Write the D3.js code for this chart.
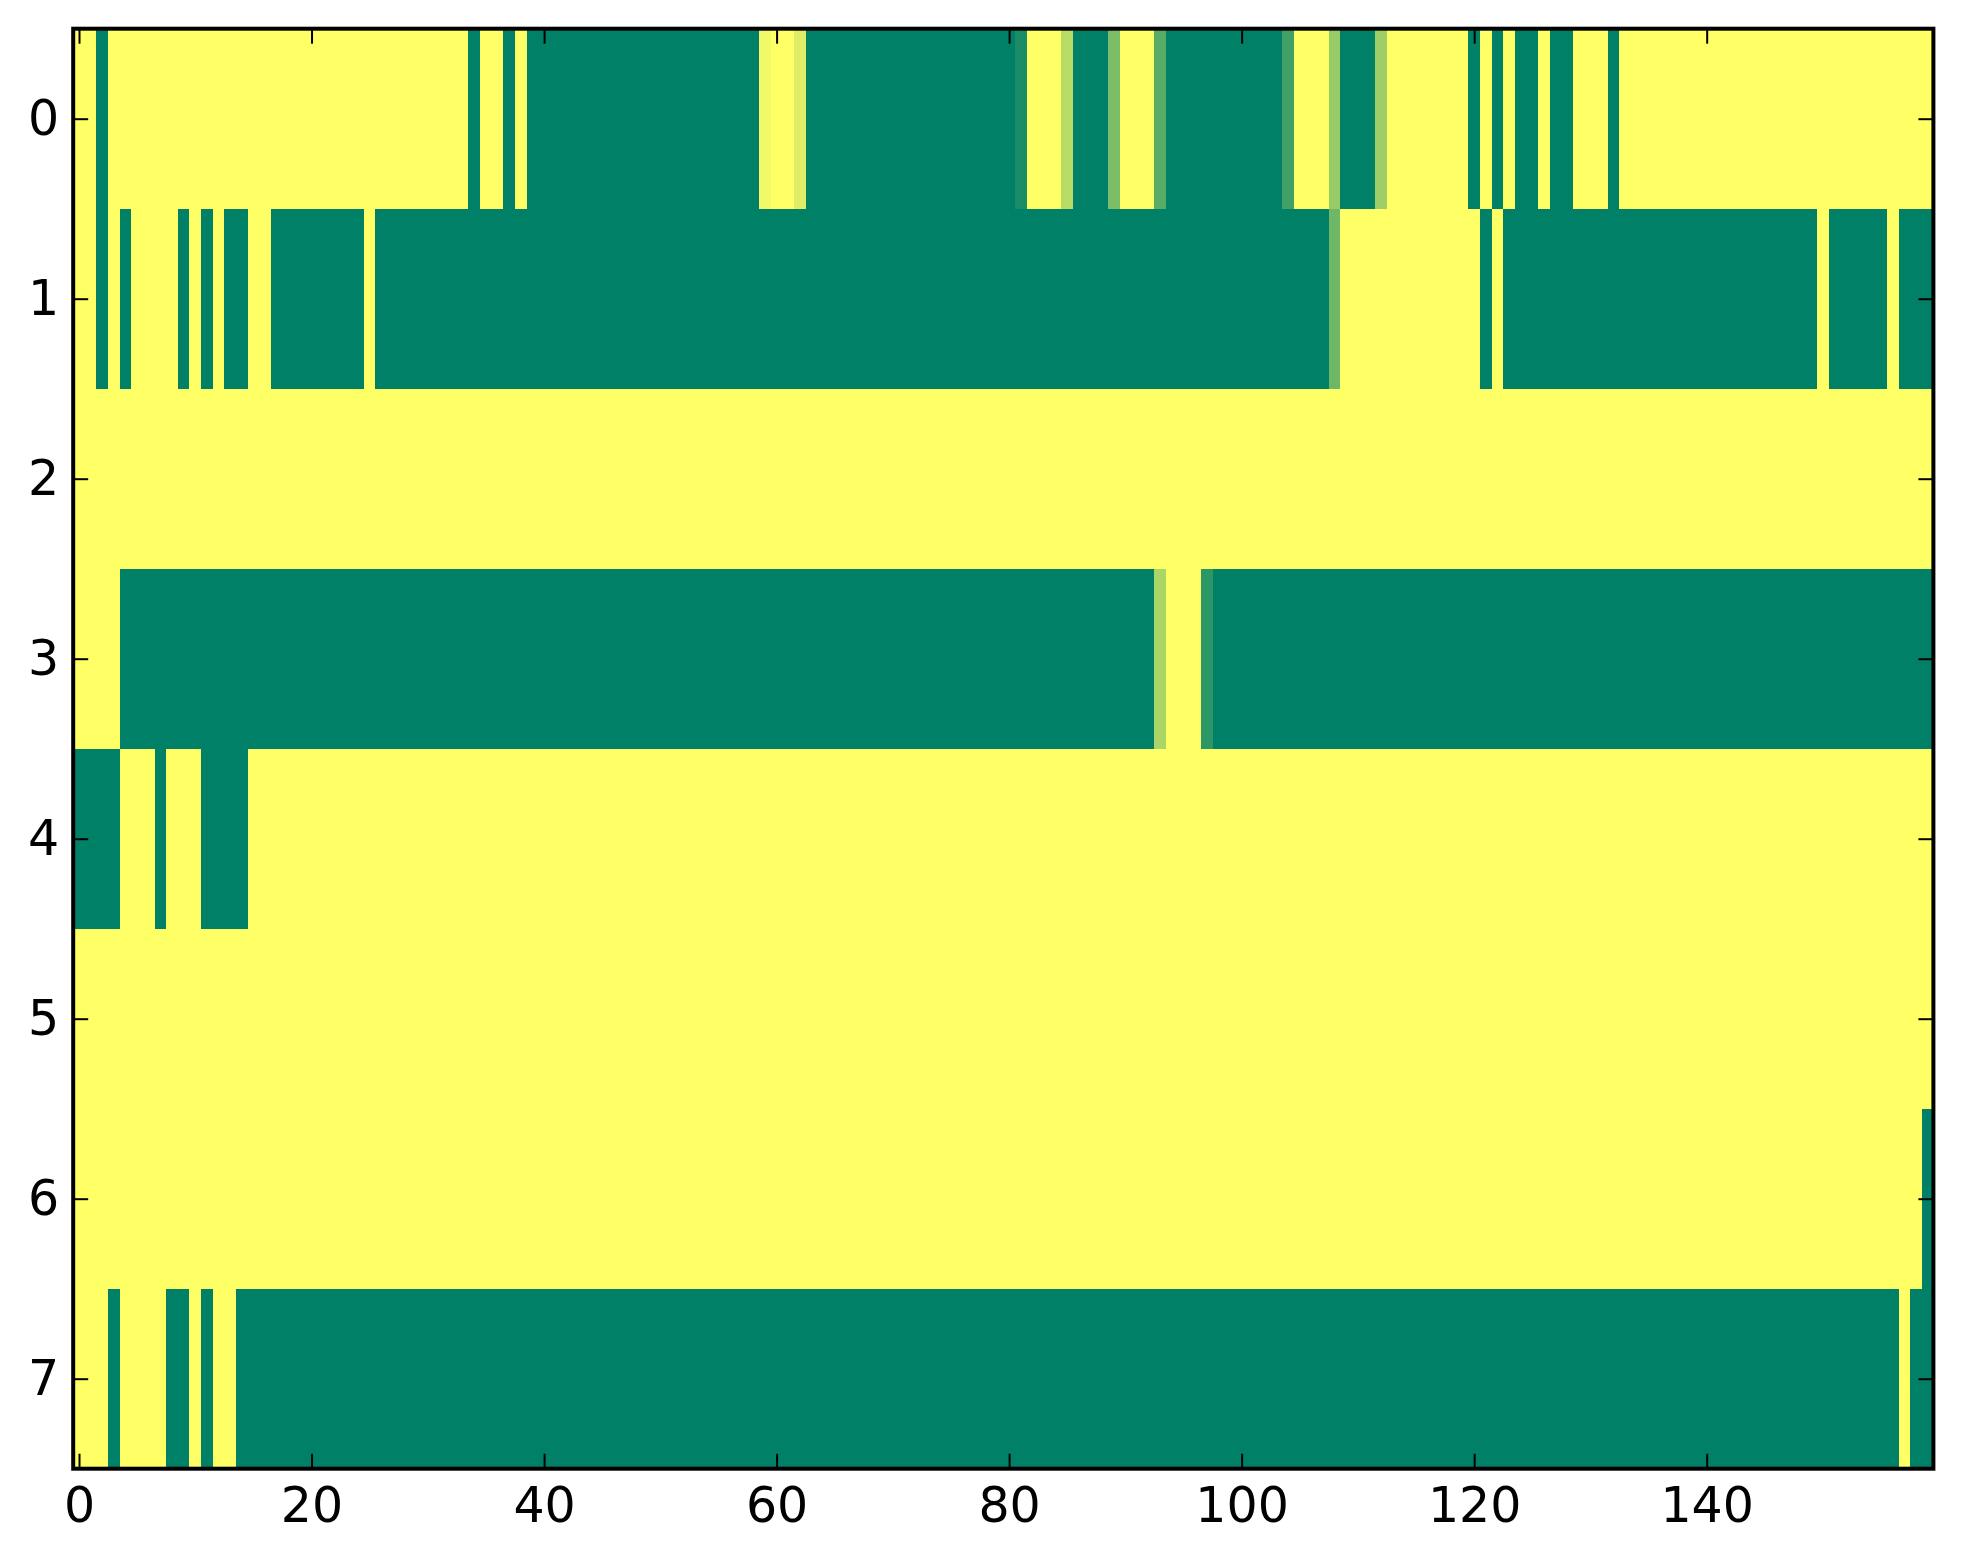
<!DOCTYPE html>
<html>
<head>
    <meta charset="utf-8">
    <style>
        body { margin: 0; background: #fff; }
        .tick text { font-family: "DejaVu Sans", sans-serif; font-size: 49px; fill: #000; }
        .tick line { stroke: #000; stroke-width: 2px; }
    </style>
    <script src="https://cdn.jsdelivr.net/npm/d3@7/dist/d3.min.js"></script>
</head>
<body>

<script>

    // cell values, one array per row (160 columns each)
    var row0 = [
        1, 1, 0, 1, 1, 1, 1, 1, 1, 1, 1, 1, 1, 1, 1, 1, 1, 1, 1, 1,
        1, 1, 1, 1, 1, 1, 1, 1, 1, 1, 1, 1, 1, 1, 0, 1, 1, 0, 1, 0,
        0, 0, 0, 0, 0, 0, 0, 0, 0, 0, 0, 0, 0, 0, 0, 0, 0, 0, 0, 0.95,
        1, 1, 0.87, 0, 0, 0, 0, 0, 0, 0, 0, 0, 0, 0, 0, 0, 0, 0, 0, 0,
        0, 0.1, 1, 1, 1, 0.72, 0, 0, 0, 0.48, 1, 1, 1, 0.35, 0, 0, 0, 0, 0, 0,
        0, 0, 0, 0, 0.25, 1, 1, 1, 0.59, 0, 0, 0, 0.62, 1, 1, 1, 1, 1, 1, 1,
        0, 1, 0, 1, 0, 0, 1, 0, 0, 1, 1, 1, 0, 1, 1, 1, 1, 1, 1, 1,
        1, 1, 1, 1, 1, 1, 1, 1, 1, 1, 1, 1, 1, 1, 1, 1, 1, 1, 1, 1
    ];
    var row1 = [
        1, 1, 0, 1, 0, 1, 1, 1, 1, 0, 1, 0, 1, 0, 0, 1, 1, 0, 0, 0,
        0, 0, 0, 0, 0, 1, 0, 0, 0, 0, 0, 0, 0, 0, 0, 0, 0, 0, 0, 0,
        0, 0, 0, 0, 0, 0, 0, 0, 0, 0, 0, 0, 0, 0, 0, 0, 0, 0, 0, 0,
        0, 0, 0, 0, 0, 0, 0, 0, 0, 0, 0, 0, 0, 0, 0, 0, 0, 0, 0, 0,
        0, 0, 0, 0, 0, 0, 0, 0, 0, 0, 0, 0, 0, 0, 0, 0, 0, 0, 0, 0,
        0, 0, 0, 0, 0, 0, 0, 0, 0.43, 1, 1, 1, 1, 1, 1, 1, 1, 1, 1, 1,
        1, 0, 1, 0, 0, 0, 0, 0, 0, 0, 0, 0, 0, 0, 0, 0, 0, 0, 0, 0,
        0, 0, 0, 0, 0, 0, 0, 0, 0, 0, 1, 0, 0, 0, 0, 0, 1, 0, 0, 0
    ];
    var row2 = [
        1, 1, 1, 1, 1, 1, 1, 1, 1, 1, 1, 1, 1, 1, 1, 1, 1, 1, 1, 1,
        1, 1, 1, 1, 1, 1, 1, 1, 1, 1, 1, 1, 1, 1, 1, 1, 1, 1, 1, 1,
        1, 1, 1, 1, 1, 1, 1, 1, 1, 1, 1, 1, 1, 1, 1, 1, 1, 1, 1, 1,
        1, 1, 1, 1, 1, 1, 1, 1, 1, 1, 1, 1, 1, 1, 1, 1, 1, 1, 1, 1,
        1, 1, 1, 1, 1, 1, 1, 1, 1, 1, 1, 1, 1, 1, 1, 1, 1, 1, 1, 1,
        1, 1, 1, 1, 1, 1, 1, 1, 1, 1, 1, 1, 1, 1, 1, 1, 1, 1, 1, 1,
        1, 1, 1, 1, 1, 1, 1, 1, 1, 1, 1, 1, 1, 1, 1, 1, 1, 1, 1, 1,
        1, 1, 1, 1, 1, 1, 1, 1, 1, 1, 1, 1, 1, 1, 1, 1, 1, 1, 1, 1
    ];
    var row3 = [
        1, 1, 1, 1, 0, 0, 0, 0, 0, 0, 0, 0, 0, 0, 0, 0, 0, 0, 0, 0,
        0, 0, 0, 0, 0, 0, 0, 0, 0, 0, 0, 0, 0, 0, 0, 0, 0, 0, 0, 0,
        0, 0, 0, 0, 0, 0, 0, 0, 0, 0, 0, 0, 0, 0, 0, 0, 0, 0, 0, 0,
        0, 0, 0, 0, 0, 0, 0, 0, 0, 0, 0, 0, 0, 0, 0, 0, 0, 0, 0, 0,
        0, 0, 0, 0, 0, 0, 0, 0, 0, 0, 0, 0, 0, 0.67, 1, 1, 1, 0.17, 0, 0,
        0, 0, 0, 0, 0, 0, 0, 0, 0, 0, 0, 0, 0, 0, 0, 0, 0, 0, 0, 0,
        0, 0, 0, 0, 0, 0, 0, 0, 0, 0, 0, 0, 0, 0, 0, 0, 0, 0, 0, 0,
        0, 0, 0, 0, 0, 0, 0, 0, 0, 0, 0, 0, 0, 0, 0, 0, 0, 0, 0, 0
    ];
    var row4 = [
        0, 0, 0, 0, 1, 1, 1, 0, 1, 1, 1, 0, 0, 0, 0, 1, 1, 1, 1, 1,
        1, 1, 1, 1, 1, 1, 1, 1, 1, 1, 1, 1, 1, 1, 1, 1, 1, 1, 1, 1,
        1, 1, 1, 1, 1, 1, 1, 1, 1, 1, 1, 1, 1, 1, 1, 1, 1, 1, 1, 1,
        1, 1, 1, 1, 1, 1, 1, 1, 1, 1, 1, 1, 1, 1, 1, 1, 1, 1, 1, 1,
        1, 1, 1, 1, 1, 1, 1, 1, 1, 1, 1, 1, 1, 1, 1, 1, 1, 1, 1, 1,
        1, 1, 1, 1, 1, 1, 1, 1, 1, 1, 1, 1, 1, 1, 1, 1, 1, 1, 1, 1,
        1, 1, 1, 1, 1, 1, 1, 1, 1, 1, 1, 1, 1, 1, 1, 1, 1, 1, 1, 1,
        1, 1, 1, 1, 1, 1, 1, 1, 1, 1, 1, 1, 1, 1, 1, 1, 1, 1, 1, 1
    ];
    var row5 = [
        1, 1, 1, 1, 1, 1, 1, 1, 1, 1, 1, 1, 1, 1, 1, 1, 1, 1, 1, 1,
        1, 1, 1, 1, 1, 1, 1, 1, 1, 1, 1, 1, 1, 1, 1, 1, 1, 1, 1, 1,
        1, 1, 1, 1, 1, 1, 1, 1, 1, 1, 1, 1, 1, 1, 1, 1, 1, 1, 1, 1,
        1, 1, 1, 1, 1, 1, 1, 1, 1, 1, 1, 1, 1, 1, 1, 1, 1, 1, 1, 1,
        1, 1, 1, 1, 1, 1, 1, 1, 1, 1, 1, 1, 1, 1, 1, 1, 1, 1, 1, 1,
        1, 1, 1, 1, 1, 1, 1, 1, 1, 1, 1, 1, 1, 1, 1, 1, 1, 1, 1, 1,
        1, 1, 1, 1, 1, 1, 1, 1, 1, 1, 1, 1, 1, 1, 1, 1, 1, 1, 1, 1,
        1, 1, 1, 1, 1, 1, 1, 1, 1, 1, 1, 1, 1, 1, 1, 1, 1, 1, 1, 1
    ];
    var row6 = [
        1, 1, 1, 1, 1, 1, 1, 1, 1, 1, 1, 1, 1, 1, 1, 1, 1, 1, 1, 1,
        1, 1, 1, 1, 1, 1, 1, 1, 1, 1, 1, 1, 1, 1, 1, 1, 1, 1, 1, 1,
        1, 1, 1, 1, 1, 1, 1, 1, 1, 1, 1, 1, 1, 1, 1, 1, 1, 1, 1, 1,
        1, 1, 1, 1, 1, 1, 1, 1, 1, 1, 1, 1, 1, 1, 1, 1, 1, 1, 1, 1,
        1, 1, 1, 1, 1, 1, 1, 1, 1, 1, 1, 1, 1, 1, 1, 1, 1, 1, 1, 1,
        1, 1, 1, 1, 1, 1, 1, 1, 1, 1, 1, 1, 1, 1, 1, 1, 1, 1, 1, 1,
        1, 1, 1, 1, 1, 1, 1, 1, 1, 1, 1, 1, 1, 1, 1, 1, 1, 1, 1, 1,
        1, 1, 1, 1, 1, 1, 1, 1, 1, 1, 1, 1, 1, 1, 1, 1, 1, 1, 1, 0
    ];
    var row7 = [
        1, 1, 1, 0, 1, 1, 1, 1, 0, 0, 1, 0, 1, 1, 0, 0, 0, 0, 0, 0,
        0, 0, 0, 0, 0, 0, 0, 0, 0, 0, 0, 0, 0, 0, 0, 0, 0, 0, 0, 0,
        0, 0, 0, 0, 0, 0, 0, 0, 0, 0, 0, 0, 0, 0, 0, 0, 0, 0, 0, 0,
        0, 0, 0, 0, 0, 0, 0, 0, 0, 0, 0, 0, 0, 0, 0, 0, 0, 0, 0, 0,
        0, 0, 0, 0, 0, 0, 0, 0, 0, 0, 0, 0, 0, 0, 0, 0, 0, 0, 0, 0,
        0, 0, 0, 0, 0, 0, 0, 0, 0, 0, 0, 0, 0, 0, 0, 0, 0, 0, 0, 0,
        0, 0, 0, 0, 0, 0, 0, 0, 0, 0, 0, 0, 0, 0, 0, 0, 0, 0, 0, 0,
        0, 0, 0, 0, 0, 0, 0, 0, 0, 0, 0, 0, 0, 0, 0, 0, 0, 1, 0, 0
    ];

    var rows = [row0, row1, row2, row3, row4, row5, row6, row7];
    var xTicks = [0, 20, 40, 60, 80, 100, 120, 140];
    var yTicks = [0, 1, 2, 3, 4, 5, 6, 7];

    // set the dimensions and margins of the graph
    var margin = {top: 28.7, left: 73.2},
        width = 1860.2,
        height = 1440;

    var svg = d3.select("body").append("svg")
        .attr("width", 1963)
        .attr("height", 1564)
        .append("g")
        .attr("transform", "translate(" + margin.left + "," + margin.top + ")");

    var x = d3.scaleLinear().domain([-0.5, 159.5]).range([0, width]);
    var y = d3.scaleLinear().domain([-0.5, 7.5]).range([0, height]);

    // matplotlib "summer": linear from (0, .5, .4) to (1, 1, .4)
    var color = d3.scaleSequential(d3.interpolateRgb("#008066", "#ffff66")).domain([0, 1]);

    var cells = [];
    rows.forEach(function (r, i) {
        r.forEach(function (v, j) {
            cells.push({row: i, col: j, value: v});
        });
    });

    svg.append("g")
        .attr("shape-rendering", "crispEdges")
        .selectAll("rect")
        .data(cells)
        .enter()
        .append("rect")
        .attr("x", function (d) { return x(d.col - 0.5); })
        .attr("y", function (d) { return y(d.row - 0.5); })
        .attr("width", function (d) { return x(d.col + 0.5) - x(d.col - 0.5) + 0.5; })
        .attr("height", function (d) { return y(d.row + 0.5) - y(d.row - 0.5) + 0.5; })
        .attr("fill", function (d) { return color(d.value); });

    // ticks point inward on all four sides
    var tickLen = 15;

    svg.append("g")
        .attr("transform", "translate(0," + height + ")")
        .call(d3.axisBottom(x).tickValues(xTicks).tickSize(-tickLen).tickPadding(19))
        .call(function (g) { g.select(".domain").remove(); });

    svg.append("g")
        .call(d3.axisTop(x).tickValues(xTicks).tickSize(-tickLen).tickFormat(""))
        .call(function (g) { g.select(".domain").remove(); });

    svg.append("g")
        .call(d3.axisLeft(y).tickValues(yTicks).tickSize(-tickLen).tickPadding(14))
        .call(function (g) { g.select(".domain").remove(); });

    svg.append("g")
        .attr("transform", "translate(" + width + ",0)")
        .call(d3.axisRight(y).tickValues(yTicks).tickSize(-tickLen).tickFormat(""))
        .call(function (g) { g.select(".domain").remove(); });

    svg.selectAll(".tick text").attr("font-family", null).attr("font-size", null);

    svg.append("rect")
        .attr("width", width)
        .attr("height", height)
        .attr("fill", "none")
        .attr("stroke", "#000")
        .attr("stroke-width", 4);

</script>
</body>
</html>
